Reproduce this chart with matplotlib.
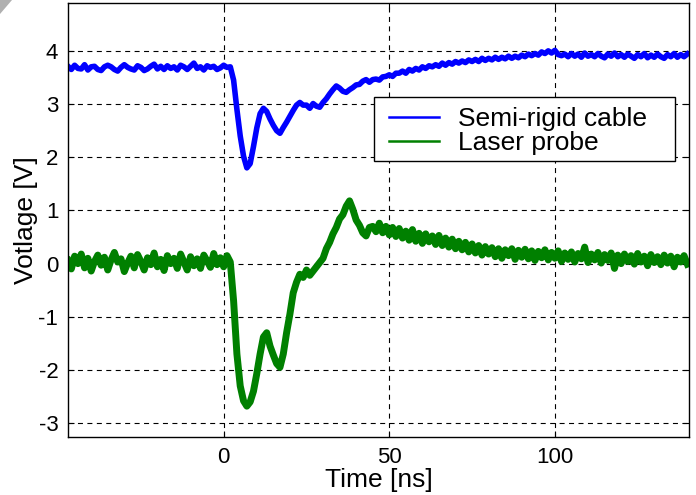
import numpy as np
import matplotlib
matplotlib.use("Agg")
import matplotlib.pyplot as plt
from matplotlib.patches import Polygon, Rectangle

# Time axis (ns), one sample per ns from -47 to 140
t_start, t_stop = -47, 140
time_ns = np.arange(t_start, t_stop + 1, 1)

semi_rigid = [
    3.71, 3.65, 3.73, 3.67, 3.66, 3.74, 3.64, 3.70, 3.71, 3.65,
    3.63, 3.70, 3.73, 3.70, 3.65, 3.62, 3.69, 3.74, 3.69, 3.66,
    3.64, 3.72, 3.69, 3.63, 3.66, 3.71, 3.75, 3.66, 3.71, 3.65,
    3.72, 3.67, 3.70, 3.64, 3.73, 3.70, 3.65, 3.71, 3.77, 3.67,
    3.70, 3.64, 3.72, 3.69, 3.71, 3.65, 3.68, 3.73, 3.69, 3.70,
    3.45, 2.90, 2.40, 2.02, 1.80, 1.88, 2.20, 2.55, 2.82, 2.92,
    2.86, 2.72, 2.60, 2.50, 2.45, 2.56, 2.66, 2.77, 2.88, 2.98,
    3.03, 2.98, 2.98, 2.92, 3.01, 2.96, 2.94, 3.03, 3.10, 3.19,
    3.27, 3.34, 3.30, 3.24, 3.22, 3.27, 3.31, 3.36, 3.37, 3.43,
    3.46, 3.41, 3.46, 3.47, 3.45, 3.51, 3.52, 3.55, 3.52, 3.58,
    3.58, 3.62, 3.58, 3.65, 3.62, 3.67, 3.64, 3.70, 3.67, 3.72,
    3.70, 3.74, 3.71, 3.77, 3.73, 3.78, 3.75, 3.80, 3.77, 3.81,
    3.78, 3.83, 3.80, 3.84, 3.80, 3.86, 3.82, 3.86, 3.83, 3.88,
    3.84, 3.88, 3.85, 3.90, 3.86, 3.90, 3.87, 3.92, 3.89, 3.94,
    3.91, 3.95, 3.92, 3.98, 3.95, 4.00, 3.96, 4.01, 3.93, 3.91,
    3.94, 3.89, 3.95, 3.90, 3.94, 3.88, 3.96, 3.90, 3.93, 3.89,
    3.95, 3.90, 3.87, 3.94, 3.90, 3.96, 3.89, 3.93, 3.88, 3.94,
    3.90, 3.86, 3.93, 3.89, 3.95, 3.87, 3.92, 3.88, 3.94, 3.89,
    3.86, 3.93, 3.89, 3.95, 3.88, 3.93, 3.89, 3.94,
]

laser_probe = [
    0.06, -0.10, 0.14, 0.00, 0.18, -0.08, 0.10, -0.14, 0.04, 0.16,
    -0.03, 0.12, -0.12, 0.07, 0.21, 0.03, 0.09, -0.15, 0.01, 0.14,
    -0.08, 0.17, 0.04, -0.12, 0.11, -0.02, 0.20, -0.06, 0.08, -0.13,
    0.15, 0.00, 0.10, -0.09, 0.18, 0.03, -0.12, 0.13, -0.04, 0.09,
    -0.09, 0.16, 0.05, -0.07, 0.19, -0.02, 0.11, -0.06, 0.15, 0.03,
    -0.70, -1.70, -2.30, -2.58, -2.68, -2.60, -2.40, -2.07, -1.70, -1.38,
    -1.30, -1.55, -1.72, -1.88, -1.95, -1.70, -1.30, -0.95, -0.55, -0.35,
    -0.20, -0.26, -0.12, -0.22, -0.14, -0.06, 0.02, 0.10, 0.28, 0.40,
    0.56, 0.68, 0.84, 0.92, 1.08, 1.18, 1.02, 0.82, 0.72, 0.58,
    0.52, 0.68, 0.70, 0.60, 0.76, 0.58, 0.70, 0.54, 0.68, 0.51,
    0.66, 0.48, 0.61, 0.44, 0.64, 0.42, 0.57, 0.38, 0.56, 0.41,
    0.52, 0.36, 0.53, 0.34, 0.48, 0.31, 0.46, 0.28, 0.42, 0.26,
    0.40, 0.22, 0.37, 0.20, 0.34, 0.16, 0.32, 0.18, 0.30, 0.13,
    0.28, 0.10, 0.26, 0.15, 0.28, 0.08, 0.25, 0.12, 0.27, 0.09,
    0.24, 0.06, 0.23, 0.11, 0.26, 0.07, 0.21, 0.10, 0.24, 0.04,
    0.20, 0.08, 0.22, 0.03, 0.19, 0.09, 0.31, 0.02, 0.18, 0.07,
    0.21, 0.01, 0.17, 0.06, 0.20, -0.09, 0.16, 0.00, 0.18, 0.04,
    0.15, -0.01, 0.19, 0.03, 0.14, -0.04, 0.17, 0.02, 0.13, -0.02,
    0.16, 0.01, 0.14, -0.06, 0.12, 0.03, 0.15, -0.01,
]

series_labels = ["Semi-rigid cable", "Laser probe"]
x_ticks = [0, 50, 100]
y_ticks = [-3, -2, -1, 0, 1, 2, 3, 4]

plt.rcParams['font.family'] = ['Liberation Sans', 'DejaVu Sans']
plt.rcParams['axes.unicode_minus'] = False

fig = plt.figure(figsize=(6.96, 4.95), dpi=100)
ax = fig.add_axes([68/696, 58/495, 621/696, 434/495])

ax.plot(time_ns, semi_rigid, color='#0000ff', lw=4.0, label=series_labels[0])
ax.plot(time_ns, laser_probe, color='#008000', lw=5.0, label=series_labels[1])

ax.set_xlim(-47, 140.5)
ax.set_ylim(-3.26, 4.9)
ax.set_xticks(x_ticks)
ax.set_yticks(y_ticks)
ax.grid(True, color='black', linestyle=(0, (4.5, 4)), linewidth=0.8)
ax.tick_params(direction='in', top=True, right=True, length=4, width=0.8,
               labelsize=16, colors='black', pad=7)
for s in ax.spines.values():
    s.set_linewidth(1.0)
ax.set_xlabel("Time [ns]", fontsize=19, labelpad=0)
ax.set_ylabel("Votlage [V]", fontsize=19, labelpad=0)

# legend frame and entries
ax.add_patch(Rectangle(((374-68)/621, (437-161)/434), 301/621, 64/434,
                       transform=ax.transAxes, facecolor='white',
                       edgecolor='black', lw=1.0, zorder=5))
leg = ax.legend(loc='upper left', bbox_to_anchor=((389-68)/621, 1 - 104/434),
                fontsize=19, frameon=False, borderpad=0, labelspacing=0.0,
                handlelength=1.9, handletextpad=0.7, borderaxespad=0)
leg.set_zorder(6)
for h in leg.get_lines():
    h.set_linewidth(1.8)

# small grey corner artifact
fig.patches.append(Polygon([[0, 1], [12/696, 1], [0, 1 - 14/495]],
                           closed=True, transform=fig.transFigure,
                           facecolor='#b0b0b0', edgecolor='none'))

fig.savefig("out.png", dpi=100)
